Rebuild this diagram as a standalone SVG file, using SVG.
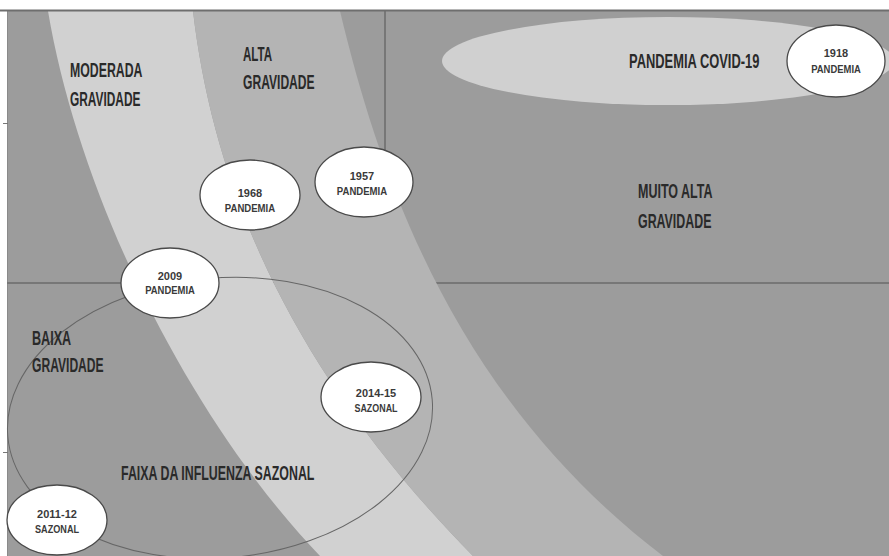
<svg xmlns="http://www.w3.org/2000/svg" width="889" height="556" viewBox="0 0 889 556">
<style>
.lbl{font-family:"Liberation Sans",Arial,sans-serif;font-size:20px;font-weight:bold;fill:#2a2a2a}
.sm{font-family:"Liberation Sans",Arial,sans-serif;font-size:11px;font-weight:bold;fill:#3a3a3a;text-anchor:middle}
.node{fill:#fff;stroke:#4a4a4a;stroke-width:1.3}
.div{stroke:#777;stroke-width:2;fill:none}
</style>
<rect x="0" y="0" width="889" height="556" fill="#fff"/>
<rect x="7" y="10" width="882" height="546" fill="#9c9c9c"/>
<line x1="7.5" y1="10" x2="7.5" y2="556" stroke="#8a8a8a" stroke-width="1"/>
<g id="dividers">
<line class="div" x1="385" y1="10" x2="385" y2="283"/>
<line class="div" x1="7" y1="283" x2="889" y2="283"/>
</g>
<g id="bands">
<path d="M48,11 L193,11 C215,200 300,380 473,556 L320,556 C190,420 80,200 48,11 Z" fill="#d1d1d1"/>
<path d="M193,11 L340,11 C385,200 465,405 663,556 L473,556 C300,380 215,200 193,11 Z" fill="#b4b4b4"/>
</g>
<ellipse id="covid" cx="668" cy="61" rx="226" ry="44" fill="#d0d0d0"/>
<ellipse id="sazonal" cx="220" cy="418" rx="213" ry="140" transform="rotate(-5 220 418)" fill="none" stroke="#666" stroke-width="1"/>
<line x1="0" y1="10.5" x2="889" y2="10.5" stroke="#6e6e6e" stroke-width="2"/>
<g id="ticks" stroke="#777" stroke-width="1">
<line x1="3" y1="123.5" x2="8" y2="123.5"/>
<line x1="3" y1="452.5" x2="8" y2="452.5"/>
</g>
<g id="labels">
<text class="lbl" transform="translate(70,77) scale(0.615,1)">MODERADA</text>
<text class="lbl" transform="translate(70,106) scale(0.595,1)">GRAVIDADE</text>
<text class="lbl" transform="translate(243,61) scale(0.58,1)">ALTA</text>
<text class="lbl" transform="translate(243,89) scale(0.605,1)">GRAVIDADE</text>
<text class="lbl" transform="translate(638,198) scale(0.625,1)">MUITO ALTA</text>
<text class="lbl" transform="translate(638,228) scale(0.62,1)">GRAVIDADE</text>
<text class="lbl" transform="translate(32,345) scale(0.63,1)">BAIXA</text>
<text class="lbl" transform="translate(32,372) scale(0.605,1)">GRAVIDADE</text>
<text class="lbl" transform="translate(121,480) scale(0.62,1)">FAIXA DA INFLUENZA SAZONAL</text>
<text class="lbl" transform="translate(629,68) scale(0.645,1)">PANDEMIA COVID-19</text>
</g>
<g id="n1918">
<ellipse class="node" cx="836" cy="61" rx="49" ry="36"/>
<text class="sm" x="836" y="57">1918</text>
<text class="sm" transform="translate(836,73) scale(0.86,1)">PANDEMIA</text>
</g>
<g id="n1957">
<ellipse class="node" cx="364" cy="182" rx="49" ry="35"/>
<text class="sm" x="362" y="180">1957</text>
<text class="sm" transform="translate(362,195) scale(0.87,1)">PANDEMIA</text>
</g>
<g id="n1968">
<ellipse class="node" cx="250" cy="195" rx="50" ry="35"/>
<text class="sm" x="250" y="197">1968</text>
<text class="sm" transform="translate(250,212) scale(0.87,1)">PANDEMIA</text>
</g>
<g id="n2009">
<ellipse class="node" cx="170" cy="283" rx="49" ry="35"/>
<text class="sm" x="170" y="280">2009</text>
<text class="sm" transform="translate(170,294) scale(0.86,1)">PANDEMIA</text>
</g>
<g id="n2014">
<ellipse class="node" cx="371" cy="397" rx="50" ry="35"/>
<text class="sm" x="376" y="397">2014-15</text>
<text class="sm" transform="translate(376,412) scale(0.81,1)">SAZONAL</text>
</g>
<g id="n2011">
<ellipse class="node" cx="57" cy="520" rx="50" ry="35"/>
<text class="sm" x="57" y="518">2011-12</text>
<text class="sm" transform="translate(57,533) scale(0.83,1)">SAZONAL</text>
</g>
</svg>
